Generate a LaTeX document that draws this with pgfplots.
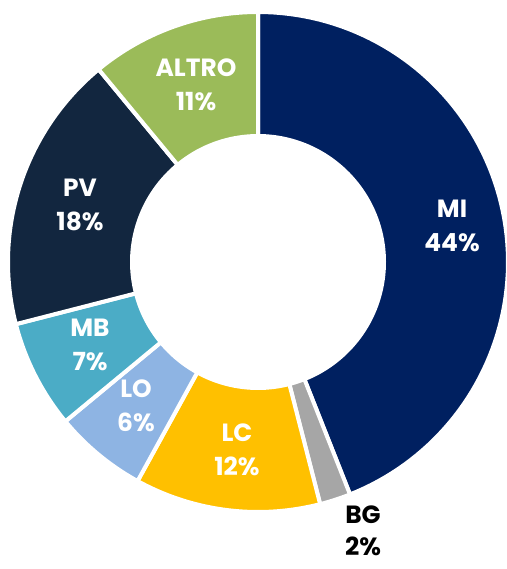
\documentclass[border=0pt]{standalone}
\usepackage{pgfplots}
\pgfplotsset{compat=1.18}
\usepackage{fontspec}
\setmainfont{Poppins}
\definecolor{cMI}{HTML}{002060}
\definecolor{cBG}{HTML}{A6A6A6}
\definecolor{cLC}{HTML}{FFC000}
\definecolor{cLO}{HTML}{8EB4E3}
\definecolor{cMB}{HTML}{4BACC6}
\definecolor{cPV}{HTML}{12263F}
\definecolor{cAL}{HTML}{9BBB59}
\newcommand{\cx}{258}
\newcommand{\cy}{307}
\newcommand{\R}{250}
\newcommand{\ri}{128}
\begin{document}
\begin{tikzpicture}
\useasboundingbox (0,0) rectangle (507bp,569bp);
\begin{axis}[hide axis, scale only axis, width=507bp, height=569bp,
  xmin=0, xmax=507, ymin=0, ymax=569, clip=false,
  every axis plot/.append style={draw=white, line width=4bp, samples=90, variable=\t}]
% shares (percent), clockwise from 12 o'clock: MI 44, BG 2, LC 12, LO 6, MB 7, PV 18, ALTRO 11
\addplot[fill=cMI, domain={90-3.6*(44)}:{90}] ({\cx+\R*cos(\t)},{\cy+\R*sin(\t)}) -- (axis cs:\cx,\cy) -- cycle;
\addplot[fill=cBG, domain={90-3.6*(44+2)}:{90-3.6*(44)}] ({\cx+\R*cos(\t)},{\cy+\R*sin(\t)}) -- (axis cs:\cx,\cy) -- cycle;
\addplot[fill=cLC, domain={90-3.6*(44+2+12)}:{90-3.6*(44+2)}] ({\cx+\R*cos(\t)},{\cy+\R*sin(\t)}) -- (axis cs:\cx,\cy) -- cycle;
\addplot[fill=cLO, domain={90-3.6*(44+2+12+6)}:{90-3.6*(44+2+12)}] ({\cx+\R*cos(\t)},{\cy+\R*sin(\t)}) -- (axis cs:\cx,\cy) -- cycle;
\addplot[fill=cMB, domain={90-3.6*(44+2+12+6+7)}:{90-3.6*(44+2+12+6)}] ({\cx+\R*cos(\t)},{\cy+\R*sin(\t)}) -- (axis cs:\cx,\cy) -- cycle;
\addplot[fill=cPV, domain={90-3.6*(44+2+12+6+7+18)}:{90-3.6*(44+2+12+6+7)}] ({\cx+\R*cos(\t)},{\cy+\R*sin(\t)}) -- (axis cs:\cx,\cy) -- cycle;
\addplot[fill=cAL, domain={90-3.6*(44+2+12+6+7+18+11)}:{90-3.6*(44+2+12+6+7+18)}] ({\cx+\R*cos(\t)},{\cy+\R*sin(\t)}) -- (axis cs:\cx,\cy) -- cycle;
\addplot[fill=white, draw=none, domain=0:360, samples=180] ({\cx+\ri*cos(\t)},{\cy+\ri*sin(\t)}) -- cycle;
\tikzset{lab/.style={align=center, text=white, inner sep=0pt, font=\fontsize{25}{34}\selectfont\bfseries}}
\node[lab] at (axis cs:452,343) {MI\\44\%};
\node[lab, text=black, font=\fontsize{25}{32}\selectfont\bfseries] at (axis cs:363,38) {BG\\2\%};
\node[lab] at (axis cs:237,119) {LC\\12\%};
\node[lab] at (axis cs:136,163) {LO\\6\%};
\node[lab] at (axis cs:90,224) {MB\\7\%};
\node[lab] at (axis cs:80,364) {PV\\18\%};
\node[lab] at (axis cs:196,484) {ALTRO\\11\%};
\end{axis}
\end{tikzpicture}
\end{document}
